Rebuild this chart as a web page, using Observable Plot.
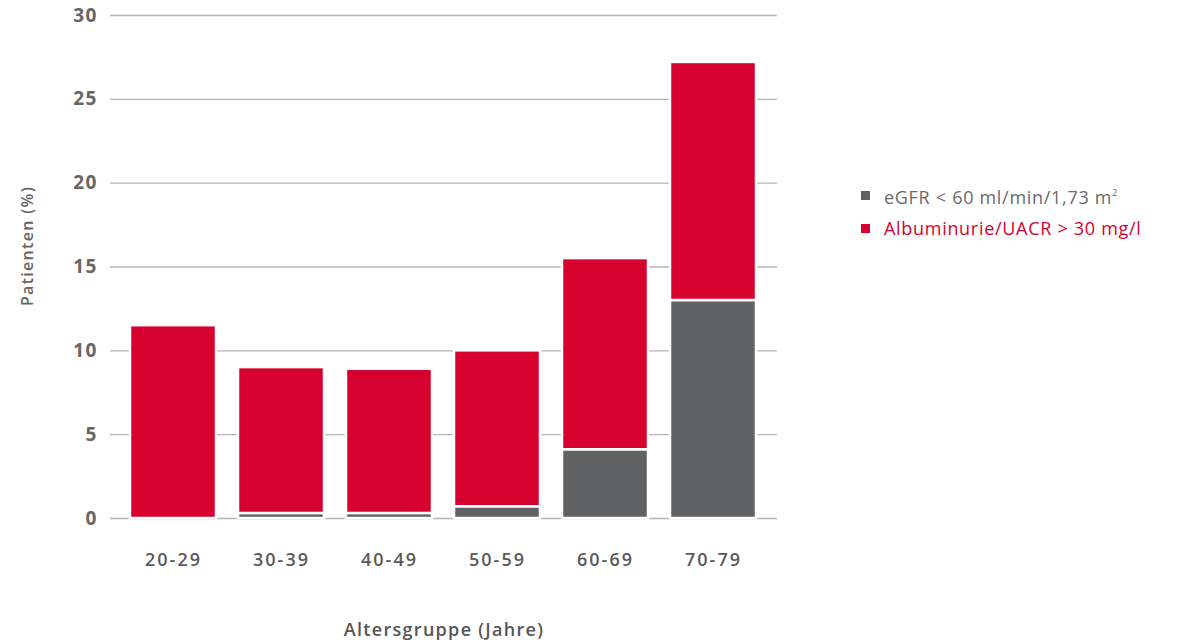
<!DOCTYPE html>
<html>
<head>
<meta charset="utf-8">
<script src="https://cdn.jsdelivr.net/npm/d3@7"></script>
<script src="https://cdn.jsdelivr.net/npm/@observablehq/plot@0.6"></script>
<style>
  body { margin: 0; background: #fff; font-family: "Open Sans", sans-serif; }
  #wrap { position: relative; width: 1181px; height: 643px; }
  #legend { position: absolute; left: 861px; top: 177px; font-size: 18px; line-height: 31px; letter-spacing: 0.7px; }
  #legend .row { display: flex; align-items: center; white-space: nowrap; }
  #legend .sw { width: 9px; height: 9px; margin-right: 14px; display: inline-block; }
  #legend sup { font-size: 9px; vertical-align: 8px; }
  g[aria-label="x-axis tick label"] text { letter-spacing: 2px; }
  g[aria-label="y-axis tick label"] text { letter-spacing: 1.2px; }
  g[aria-label="text"] text { letter-spacing: 1.3px; }
</style>
</head>
<body>
<div id="wrap"><div id="legend"></div></div>
<script>
// Age groups and share of patients (%) per criterion, stacked
const ageGroups = ["20-29", "30-39", "40-49", "50-59", "60-69", "70-79"];
const egfrValues = [0, 0.3, 0.3, 0.7, 4.1, 13.0];
const albuminValues = [11.5, 8.7, 8.6, 9.3, 11.4, 14.2];
const seriesNames = ["eGFR", "Albuminurie"];
const seriesColors = ["#606264", "#d5002d"];
const yTicks = [0, 5, 10, 15, 20, 25, 30];

const rows = [];
ageGroups.forEach((g, i) => {
  rows.push({group: g, series: seriesNames[0], value: egfrValues[i]});
  rows.push({group: g, series: seriesNames[1], value: albuminValues[i]});
});

const chart = Plot.plot({
  width: 1181,
  height: 643,
  marginTop: 15,
  marginBottom: 125,
  marginLeft: 110,
  marginRight: 404,
  style: {fontFamily: "Open Sans, sans-serif", background: "transparent"},
  x: {domain: ageGroups, paddingInner: 0.2, paddingOuter: 0.16},
  y: {domain: [0, 30]},
  color: {domain: seriesNames, range: seriesColors},
  marks: [
    Plot.gridY(yTicks, {stroke: "#b5b5b5", strokeOpacity: 1, strokeWidth: 1.3}),
    Plot.barY(rows, Plot.stackY({
      x: "group", y: "value", fill: "series",
      filter: d => d.value > 0,
      stroke: "white", strokeWidth: 2.5
    })),
    Plot.axisY(yTicks, {
      tickSize: 0, tickPadding: 13, fontSize: 19, fontWeight: 700,
      fill: "#666", label: null
    }),
    Plot.axisX({
      tickSize: 0, tickPadding: 35, fontSize: 18, fontWeight: 600,
      fill: "#5a5a5a", label: null
    }),
    Plot.text(["Altersgruppe (Jahre)"], {
      frameAnchor: "bottom", dy: 117, fontSize: 18, fontWeight: 600, fill: "#555"
    }),
    Plot.text(["Patienten (%)"], {
      frameAnchor: "left", textAnchor: "middle", dx: -83, dy: -21, rotate: -90,
      fontSize: 16, fontWeight: 600, fill: "#666"
    })
  ]
});
document.getElementById("wrap").prepend(chart);

// Legend
const legendLabels = [
  {text: "eGFR < 60 ml/min/1,73 m", sup: "2", color: seriesColors[0], textColor: "#6a6a6a"},
  {text: "Albuminurie/UACR > 30 mg/l", sup: "", color: seriesColors[1], textColor: "#d5002d"}
];
const legend = document.getElementById("legend");
legendLabels.forEach(l => {
  const row = document.createElement("div");
  row.className = "row";
  row.style.color = l.textColor;
  row.innerHTML = `<span class="sw" style="background:${l.color}"></span><span>${l.text}${l.sup ? `<sup>${l.sup}</sup>` : ""}</span>`;
  legend.appendChild(row);
});
</script>
</body>
</html>
